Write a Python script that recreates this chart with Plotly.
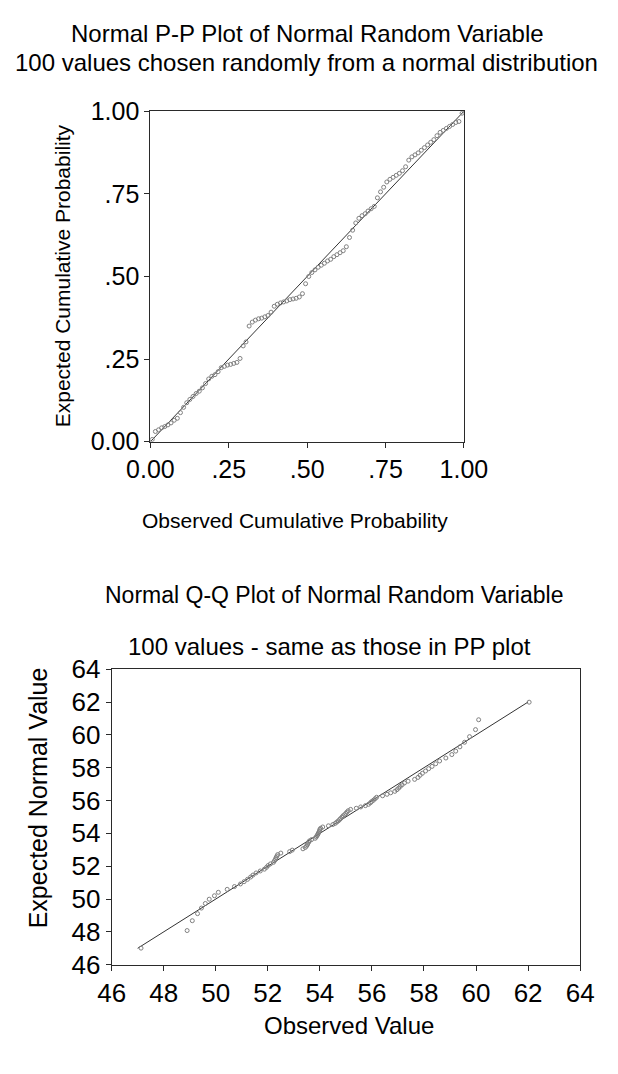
import plotly.graph_objects as go

W, H = 618, 1074

# ---------------- data ----------------
pp_observed = [.006, .016, .026, .036, .046, .056, .066, .076, .086, .096,
               .106, .116, .126, .136, .146, .156, .166, .176, .186, .196,
               .206, .216, .226, .236, .246, .256, .266, .276, .286, .296,
               .305, .315, .325, .335, .345, .355, .365, .375, .385, .395,
               .405, .415, .425, .435, .445, .455, .465, .475, .485, .495,
               .505, .515, .525, .535, .545, .555, .565, .575, .585, .595,
               .605, .615, .625, .635, .645, .655, .665, .675, .685, .694,
               .704, .714, .724, .734, .744, .754, .764, .774, .784, .794,
               .804, .814, .824, .834, .844, .854, .864, .874, .884, .894,
               .904, .914, .924, .934, .944, .954, .964, .974, .984, .994]
pp_expected = [.007, .031, .036, .042, .046, .051, .057, .065, .071, .088,
               .104, .118, .128, .137, .146, .153, .163, .176, .190, .198,
               .203, .212, .224, .228, .232, .234, .237, .240, .252, .290,
               .302, .350, .362, .368, .372, .374, .378, .382, .392, .410,
               .416, .420, .423, .426, .430, .432, .434, .438, .448, .478,
               .500, .512, .520, .528, .534, .540, .547, .552, .560, .566,
               .572, .578, .590, .618, .640, .662, .676, .684, .690, .698,
               .705, .712, .738, .756, .770, .786, .794, .800, .806, .812,
               .820, .832, .852, .862, .868, .874, .882, .890, .898, .906,
               .914, .926, .936, .942, .948, .954, .960, .966, .969, .994]

qq_observed = [47.13, 48.90, 49.10, 49.30, 49.45, 49.60, 49.75, 49.95, 50.10, 50.44,
               50.72, 50.95, 51.09, 51.22, 51.34, 51.43, 51.55, 51.71, 51.87, 51.95,
               52.01, 52.10, 52.22, 52.26, 52.30, 52.32, 52.35, 52.38, 52.50, 52.84,
               52.94, 53.35, 53.44, 53.49, 53.52, 53.54, 53.57, 53.60, 53.68, 53.82,
               53.86, 53.89, 53.92, 53.94, 53.97, 53.99, 54.00, 54.03, 54.11, 54.33,
               54.50, 54.59, 54.65, 54.71, 54.76, 54.80, 54.85, 54.89, 54.95, 55.00,
               55.04, 55.09, 55.18, 55.40, 55.57, 55.75, 55.87, 55.94, 55.99, 56.06,
               56.12, 56.18, 56.41, 56.58, 56.72, 56.88, 56.96, 57.03, 57.09, 57.16,
               57.25, 57.39, 57.64, 57.77, 57.85, 57.94, 58.06, 58.18, 58.31, 58.45,
               58.60, 58.84, 59.07, 59.22, 59.38, 59.56, 59.75, 59.98, 60.10, 62.04]
qq_expected = [47.01, 48.08, 48.68, 49.11, 49.45, 49.73, 49.99, 50.20, 50.41, 50.59,
               50.76, 50.92, 51.06, 51.20, 51.34, 51.46, 51.59, 51.71, 51.82, 51.93,
               52.04, 52.14, 52.24, 52.34, 52.44, 52.53, 52.62, 52.71, 52.80, 52.89,
               52.98, 53.06, 53.14, 53.23, 53.31, 53.39, 53.47, 53.54, 53.62, 53.70,
               53.78, 53.86, 53.93, 54.01, 54.09, 54.16, 54.24, 54.31, 54.39, 54.46,
               54.54, 54.61, 54.69, 54.76, 54.84, 54.91, 54.99, 55.07, 55.14, 55.22,
               55.30, 55.38, 55.46, 55.53, 55.61, 55.69, 55.77, 55.86, 55.94, 56.02,
               56.11, 56.20, 56.29, 56.38, 56.47, 56.56, 56.66, 56.76, 56.86, 56.96,
               57.07, 57.18, 57.29, 57.41, 57.54, 57.66, 57.80, 57.94, 58.08, 58.24,
               58.41, 58.59, 58.80, 59.01, 59.27, 59.55, 59.89, 60.32, 60.92, 61.99]

pp_line = [0.0, 1.0]
qq_line = [47.0, 62.0]

pp_ticks = [0, .25, .5, .75, 1.0]
pp_ticktext = ["0.00", ".25", ".50", ".75", "1.00"]
qq_ticks = [46, 48, 50, 52, 54, 56, 58, 60, 62, 64]

FONT = "Liberation Sans, Arial, Helvetica, sans-serif"
AX = "#2a2a2a"
PT = "#808080"

def px(x):
    return x / W

def py(y):
    return 1 - y / H

fig = go.Figure()

fig.add_trace(go.Scatter(x=pp_line, y=pp_line, mode="lines",
                         line=dict(color="#333333", width=1),
                         xaxis="x", yaxis="y", showlegend=False, hoverinfo="skip"))
fig.add_trace(go.Scatter(x=pp_observed, y=pp_expected, mode="markers",
                         marker=dict(symbol="circle-open", size=4, color=PT, line=dict(width=1)),
                         xaxis="x", yaxis="y", showlegend=False))

fig.add_trace(go.Scatter(x=qq_line, y=qq_line, mode="lines",
                         line=dict(color="#333333", width=1),
                         xaxis="x2", yaxis="y2", showlegend=False, hoverinfo="skip"))
fig.add_trace(go.Scatter(x=qq_observed, y=qq_expected, mode="markers",
                         marker=dict(symbol="circle-open", size=4, color=PT, line=dict(width=1)),
                         xaxis="x2", yaxis="y2", showlegend=False))

axis_common = dict(showline=True, linecolor=AX, linewidth=1, mirror=True,
                   ticks="outside", ticklen=5, tickcolor=AX, tickwidth=1,
                   showgrid=False, zeroline=False, fixedrange=True)

# P-P plot area: x 137-477, y 99-439 px ; Q-Q plot area: x 95-603, y 673-977 px
fig.update_layout(
    xaxis=dict(domain=[px(137), px(477)], range=[0, 1], tickvals=pp_ticks, ticktext=pp_ticktext,
               tickfont=dict(size=25, color="black", family=FONT), anchor="y", **axis_common),
    yaxis=dict(domain=[py(439), py(99)], range=[0, 1], tickvals=pp_ticks, ticktext=pp_ticktext,
               tickfont=dict(size=25, color="black", family=FONT), anchor="x", **axis_common),
    xaxis2=dict(domain=[px(95), px(603)], range=[46, 64], tickvals=qq_ticks,
                tickfont=dict(size=26, color="black", family=FONT), anchor="y2", **axis_common),
    yaxis2=dict(domain=[py(977), py(673)], range=[46, 64], tickvals=qq_ticks,
                tickfont=dict(size=26, color="black", family=FONT), anchor="x2", **axis_common),
)

def note(text, x, y, size, angle=0):
    fig.add_annotation(text=text, x=px(x), y=py(y), xref="paper", yref="paper",
                       xanchor="center", yanchor="middle", showarrow=False, textangle=angle,
                       font=dict(size=size, color="black", family=FONT))

note("Normal P-P Plot of Normal Random Variable", 307, 19, 24)
note("100 values chosen randomly from a normal distribution", 306, 49, 24)
note("Observed Cumulative Probability", 294, 520, 21)
note("Expected Cumulative Probability", 42, 268, 21, -90)

note("Normal Q-Q Plot of Normal Random Variable", 336, 597, 23)
note("100 values - same as those in PP plot", 331, 650, 24)
note("Observed Value", 352, 1040, 24)
note("Expected Normal Value", 15, 805, 25, -90)

fig.update_layout(width=W, height=H, margin=dict(l=0, r=0, t=0, b=0),
                  paper_bgcolor="white", plot_bgcolor="white", showlegend=False)

fig.write_html("out.html")
